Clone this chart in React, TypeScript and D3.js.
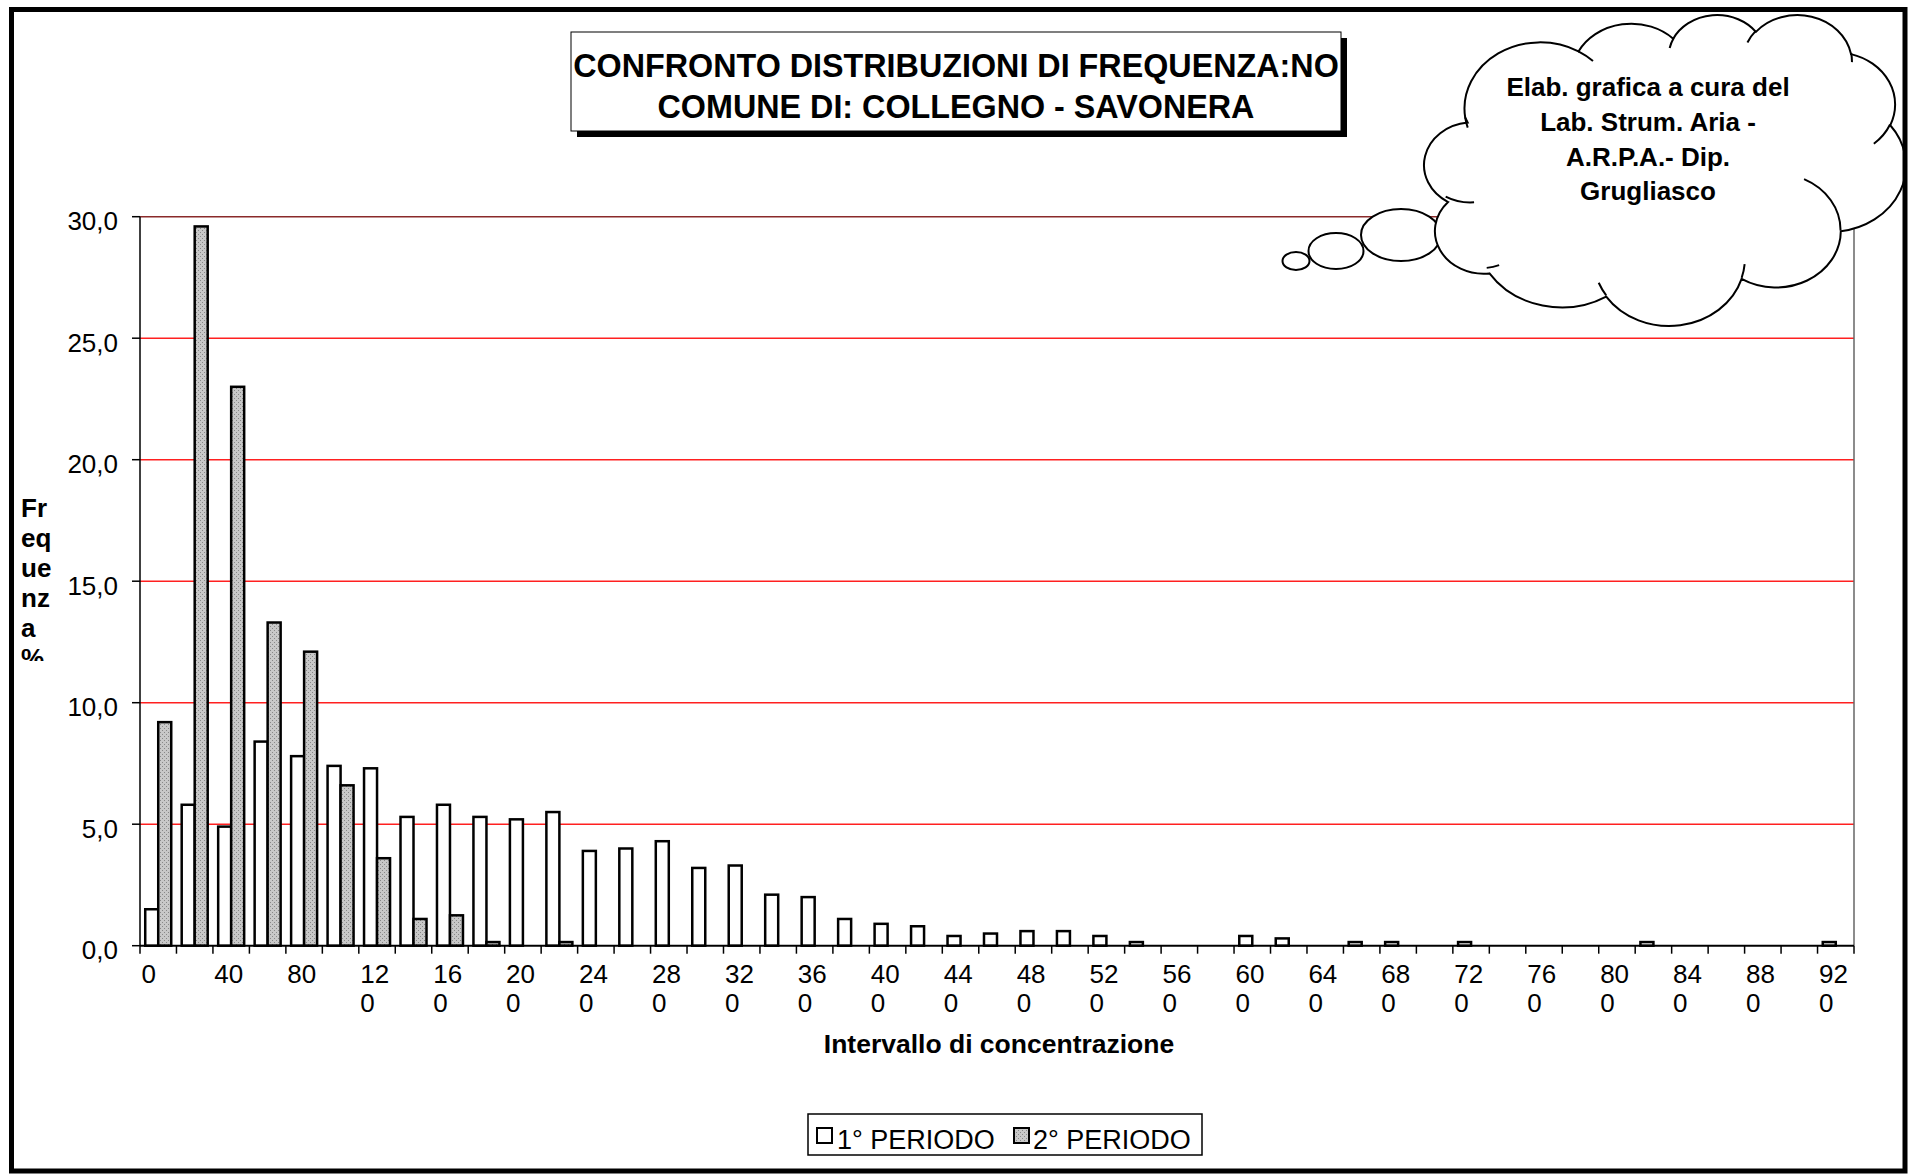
import React from 'react';
import * as d3 from 'd3';

// ---------- DATA ----------
const categories = [
  0, 20, 40, 60, 80, 100, 120, 140, 160, 180, 200, 220, 240, 260, 280, 300,
  320, 340, 360, 380, 400, 420, 440, 460, 480, 500, 520, 540, 560, 580, 600,
  620, 640, 660, 680, 700, 720, 740, 760, 780, 800, 820, 840, 860, 880, 900, 920,
];
const period1 = [
  1.5, 5.8, 4.9, 8.4, 7.8, 7.4, 7.3, 5.3, 5.8, 5.3, 5.2, 5.5, 3.9, 4.0, 4.3, 3.2,
  3.3, 2.1, 2.0, 1.1, 0.9, 0.8, 0.4, 0.5, 0.6, 0.6, 0.4, 0.15, 0, 0, 0.4,
  0.3, 0, 0.15, 0.15, 0, 0.15, 0, 0, 0, 0, 0.15, 0, 0, 0, 0, 0.15,
];
const period2 = [
  9.2, 29.6, 23.0, 13.3, 12.1, 6.6, 3.6, 1.1, 1.25, 0.15, 0, 0.15, 0, 0, 0, 0,
  0, 0, 0, 0, 0, 0, 0, 0, 0, 0, 0, 0, 0, 0, 0,
  0, 0, 0, 0, 0, 0, 0, 0, 0, 0, 0, 0, 0, 0, 0, 0,
];
const seriesNames = ['1° PERIODO', '2° PERIODO'];
const yTicks = [0, 5, 10, 15, 20, 25, 30];
const titleLines = ['CONFRONTO DISTRIBUZIONI DI FREQUENZA:NO', 'COMUNE DI: COLLEGNO - SAVONERA'];
const cloudLines = ['Elab. grafica a cura del', 'Lab. Strum. Aria -', 'A.R.P.A.- Dip.', 'Grugliasco'];
const yTitleLines = ['Fr', 'eq', 'ue', 'nz', 'a', '%'];
const xTitle = 'Intervallo di concentrazione';

// OOXML cloud preset geometry (path space 43200 x 43200)
const cloudStart: [number, number] = [3900, 14370];
const cloudArcs: number[][] = [
  [6753, 9190, -11429249, 7426832],
  [5333, 7267, -8646143, 5396714],
  [4365, 5945, -8748475, 5983381],
  [4857, 6595, -7859164, 7034504],
  [5333, 7273, -4722533, 6541615],
  [6775, 9220, -2776035, 7816140],
  [5785, 7867, 37501, 6842000],
  [6752, 9215, 1347096, 6910353],
  [7720, 10543, 3974558, 4297168],
  [4360, 5918, -16496525, 8804175],
  [4345, 5945, -14809710, 9151131],
];
const cloudInner: number[][] = [
  [4693, 26177, 4345, 5945, 5204520, 1585770],
  [6928, 34899, 4360, 5918, 4416628, 686848],
  [16478, 39090, 6752, 9215, 8257449, 844866],
  [28827, 34751, 6752, 9215, 387196, 959901],
  [34129, 22954, 5785, 7867, -4217541, 4255042],
  [41798, 15354, 5333, 7273, 1819082, 1665090],
  [38324, 5426, 4857, 6595, -824660, 891534],
  [29078, 3952, 4857, 6595, -8950887, 1091722],
  [22141, 4720, 4365, 5945, -9809656, 1061181],
  [14000, 5192, 6753, 9190, -4002417, 739161],
  [4127, 15789, 6753, 9190, 9459261, 711236],
];

// ---------- LAYOUT ----------
const W = 1916;
const H = 1174;
const plotL = 140;
const plotR = 1854;
const plotT = 216.7;
const plotB = 945.7;
const FONT = "'Liberation Sans', Arial, Helvetica, sans-serif";

type Seg = { x0: number; y0: number; rx: number; ry: number; large: number; sweep: number; x1: number; y1: number; cx: number; cy: number; t1: number; dt: number };

function arcSeg(x: number, y: number, wR: number, hR: number, stA: number, swA: number): Seg {
  const st = (stA / 60000) * Math.PI / 180;
  const sw = (swA / 60000) * Math.PI / 180;
  const t1 = Math.atan2(wR * Math.sin(st), hR * Math.cos(st));
  const t2 = Math.atan2(wR * Math.sin(st + sw), hR * Math.cos(st + sw));
  const cx = x - wR * Math.cos(t1);
  const cy = y - hR * Math.sin(t1);
  let dt = t2 - t1;
  if (sw > 0 && dt < 0) dt += 2 * Math.PI;
  if (sw < 0 && dt > 0) dt -= 2 * Math.PI;
  return {
    x0: x, y0: y, rx: wR, ry: hR,
    large: Math.abs(dt) > Math.PI ? 1 : 0,
    sweep: sw > 0 ? 1 : 0,
    x1: cx + wR * Math.cos(t2), y1: cy + hR * Math.sin(t2),
    cx, cy, t1, dt,
  };
}

function buildCloud(bx0: number, by0: number, bx1: number, by1: number) {
  const segs: Seg[] = [];
  let [x, y] = cloudStart;
  cloudArcs.forEach(([wR, hR, st, sw]) => {
    const s = arcSeg(x, y, wR, hR, st, sw);
    segs.push(s);
    x = s.x1; y = s.y1;
  });
  let minX = Infinity, minY = Infinity, maxX = -Infinity, maxY = -Infinity;
  segs.forEach((s) => {
    for (let k = 0; k <= 60; k++) {
      const t = s.t1 + (s.dt * k) / 60;
      const px = s.cx + s.rx * Math.cos(t);
      const py = s.cy + s.ry * Math.sin(t);
      minX = Math.min(minX, px); maxX = Math.max(maxX, px);
      minY = Math.min(minY, py); maxY = Math.max(maxY, py);
    }
  });
  const sx = (bx1 - bx0) / (maxX - minX);
  const sy = (by1 - by0) / (maxY - minY);
  const mx = (v: number) => bx0 + (v - minX) * sx;
  const my = (v: number) => by0 + (v - minY) * sy;
  let d = `M${mx(cloudStart[0])},${my(cloudStart[1])}`;
  segs.forEach((s) => {
    d += ` A${s.rx * sx},${s.ry * sy} 0 ${s.large} ${s.sweep} ${mx(s.x1)},${my(s.y1)}`;
  });
  d += ' Z';
  let inner = '';
  cloudInner.forEach(([px, py, wR, hR, st, sw]) => {
    const s = arcSeg(px, py, wR, hR, st, sw);
    inner += `M${mx(px)},${my(py)} A${s.rx * sx},${s.ry * sy} 0 ${s.large} ${s.sweep} ${mx(s.x1)},${my(s.y1)} `;
  });
  return { d, inner };
}

export default function App() {
  const x = d3.scaleBand<number>().domain(categories).range([plotL, plotR]).paddingInner(0.287).paddingOuter(0.1435);
  const xs = d3.scaleBand<string>().domain(seriesNames).range([0, x.bandwidth()]);
  const y = d3.scaleLinear().domain([0, 30]).range([plotB, plotT]);
  const step = x.step();
  const bounds = d3.range(categories.length + 1).map((i) => plotL + i * step);

  const cloud = buildCloud(1424, 15, 1906, 326);

  const bars: JSX.Element[] = [];
  categories.forEach((c, i) => {
    [period1, period2].forEach((arr, si) => {
      const v = arr[i];
      if (!v) return;
      const bx = (x(c) as number) + (xs(seriesNames[si]) as number);
      bars.push(
        <rect key={`b${si}-${i}`} x={bx} y={y(v)} width={xs.bandwidth()} height={y(0) - y(v)}
          fill={si === 0 ? '#ffffff' : 'url(#greyPat)'} stroke="#000" strokeWidth={2.5} />
      );
    });
  });

  return (
    <svg width={W} height={H} style={{ position: 'absolute', left: 0, top: 0, background: '#fff' }} fontFamily={FONT}>
      <defs>
        <pattern id="greyPat" patternUnits="userSpaceOnUse" width="4" height="4">
          <rect width="4" height="4" fill="#c8c8c8" />
          <rect x="0" y="0" width="1" height="1" fill="#888888" />
          <rect x="2" y="2" width="1" height="1" fill="#888888" />
        </pattern>
        <clipPath id="yTitleClip">
          <rect x="0" y="0" width="120" height="661" />
        </clipPath>
      </defs>
      <rect x={0} y={0} width={W} height={H} fill="#fff" />

      {/* gridlines */}
      {yTicks.filter((t) => t > 0).map((t) => (
        <line key={`g${t}`} x1={plotL} x2={plotR} y1={y(t)} y2={y(t)} stroke={t === 30 ? '#8a2a2a' : '#ff2020'} strokeWidth={1.5} />
      ))}
      {/* right plot border */}
      <line x1={plotR} x2={plotR} y1={plotT} y2={plotB} stroke="#666" strokeWidth={1.5} />

      {/* bars */}
      {bars}

      {/* axes */}
      <line x1={plotL} x2={plotL} y1={plotT} y2={plotB} stroke="#000" strokeWidth={1.5} />
      {yTicks.map((t) => (
        <g key={`yt${t}`}>
          <line x1={plotL - 8} x2={plotL} y1={y(t)} y2={y(t)} stroke="#000" strokeWidth={1.5} />
          <text x={118} y={y(t) + 13.5} textAnchor="end" fontSize={26} fill="#000">{d3.format('.1f')(t).replace('.', ',')}</text>
        </g>
      ))}
      <line x1={plotL} x2={plotR} y1={plotB} y2={plotB} stroke="#000" strokeWidth={2} />
      {bounds.map((bx, i) => (
        <line key={`xt${i}`} x1={bx} x2={bx} y1={plotB} y2={plotB + 8} stroke="#000" strokeWidth={1.5} />
      ))}
      {categories.map((c, i) => {
        if (i % 2 !== 0) return null;
        const s = String(c);
        const lines = s.length > 2 ? [s.slice(0, 2), s.slice(2)] : [s];
        const cx = (x(c) as number) + x.bandwidth() / 2;
        return (
          <text key={`xl${i}`} x={cx - 16.8} y={983} fontSize={26} fill="#000">
            {lines.map((l, k) => (
              <tspan key={k} x={cx - 16.8} dy={k === 0 ? 0 : 29}>{l}</tspan>
            ))}
          </text>
        );
      })}

      {/* axis titles */}
      <text x={(plotL + plotR) / 2 + 2} y={1053} textAnchor="middle" fontSize={26.5} fontWeight="bold">{xTitle}</text>
      <g clipPath="url(#yTitleClip)">
        {yTitleLines.map((l, k) => (
          <text key={`yl${k}`} x={21} y={517 + k * 30} fontSize={26} fontWeight="bold">{l}</text>
        ))}
      </g>

      {/* title box */}
      <rect x={577} y={38} width={770} height={99} fill="#000" />
      <rect x={571} y={32} width={770} height={99} fill="#fff" stroke="#000" strokeWidth={1} />
      {titleLines.map((l, k) => (
        <text key={`t${k}`} x={956} y={77 + k * 41} textAnchor="middle" fontSize={32.3} fontWeight="bold">{l}</text>
      ))}

      {/* thought bubbles and cloud */}
      <ellipse cx={1296} cy={261} rx={13.5} ry={9} fill="#fff" stroke="#000" strokeWidth={2} />
      <ellipse cx={1336} cy={251} rx={27.5} ry={18} fill="#fff" stroke="#000" strokeWidth={2} />
      <ellipse cx={1401} cy={235} rx={40} ry={26} fill="#fff" stroke="#000" strokeWidth={2} />
      <path d={cloud.d} fill="#fff" stroke="#000" strokeWidth={2} />
      <path d={cloud.inner} fill="none" stroke="#000" strokeWidth={2} />
      {cloudLines.map((l, k) => (
        <text key={`c${k}`} x={1648} y={96 + k * 34.8} textAnchor="middle" fontSize={26} fontWeight="bold">{l}</text>
      ))}

      {/* legend */}
      <rect x={808} y={1114} width={394} height={41} fill="#fff" stroke="#000" strokeWidth={1.5} />
      <rect x={817} y={1128} width={15} height={15} fill="#fff" stroke="#000" strokeWidth={2} />
      <text x={837} y={1149} fontSize={27}>{seriesNames[0]}</text>
      <rect x={1014} y={1128} width={15} height={15} fill="url(#greyPat)" stroke="#000" strokeWidth={2} />
      <text x={1033} y={1149} fontSize={27}>{seriesNames[1]}</text>

      {/* outer border */}
      <rect x={11.5} y={9.5} width={1893.5} height={1161.5} fill="none" stroke="#000" strokeWidth={5} />
    </svg>
  );
}
